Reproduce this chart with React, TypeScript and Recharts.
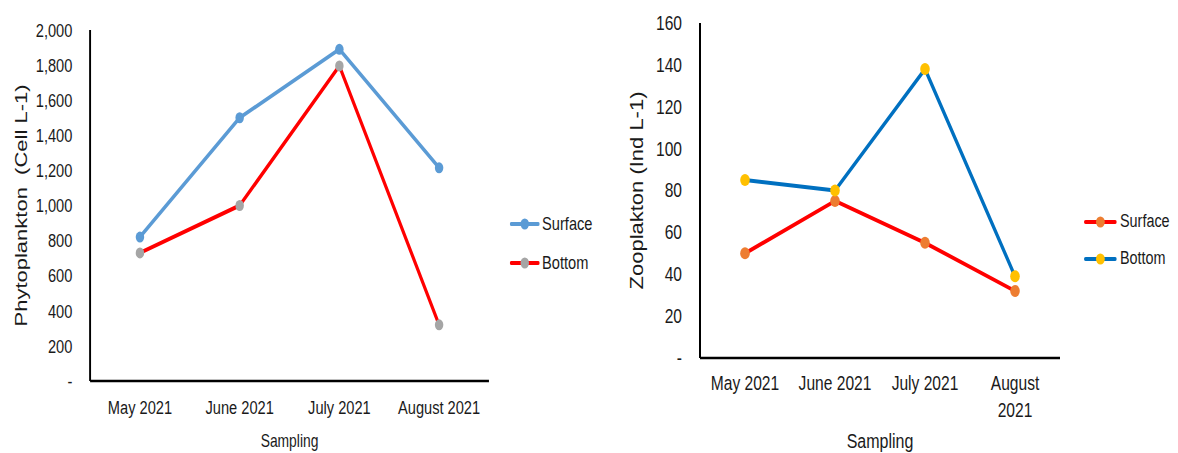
import React from "react";
import { LineChart, Line, XAxis, YAxis, Legend, Label } from "recharts";

const months = ["May 2021", "June 2021", "July 2021", "August 2021"];
// right chart wraps the last month onto two lines
const zooMonthLines = [["May 2021"], ["June 2021"], ["July 2021"], ["August", "2021"]];
const seriesNames = ["Surface", "Bottom"];

// phytoplankton (Cell L-1)
const phytoSurface = [820, 1500, 1890, 1215];
const phytoBottom = [730, 1000, 1795, 320];
const phytoTicks = [0, 200, 400, 600, 800, 1000, 1200, 1400, 1600, 1800, 2000];

// zooplankton (Ind L-1)
const zooSurface = [50, 75, 55, 32];
const zooBottom = [85, 80, 138, 39];
const zooTicks = [0, 20, 40, 60, 80, 100, 120, 140, 160];

const phytoData = months.map((m, i) => ({ month: m, surface: phytoSurface[i], bottom: phytoBottom[i] }));
const zooData = months.map((m, i) => ({ month: m, surface: zooSurface[i], bottom: zooBottom[i] }));

const FONT = '"Liberation Sans", Arial, sans-serif';
const INK = "#1a1a1a";

// the source picture is squeezed horizontally, so each chart is drawn wider and scaled down
const LEFT_K = 0.77;
const RIGHT_K = 0.8;

const dash = (v: number) => (v === 0 ? "-" : v.toLocaleString("en-US"));

type LegendItem = { name: string; line: string; dot: string };

function LegendBox({ items, lineW, gap, rowH, fontSize }: { items: LegendItem[]; lineW: number; gap: number; rowH: number; fontSize: number }) {
  return (
    <div style={{ fontFamily: FONT, fontSize, color: INK }}>
      {items.map((it) => (
        <div key={it.name} style={{ display: "flex", alignItems: "center", height: rowH }}>
          <svg width={lineW} height={14} style={{ marginRight: gap, display: "block" }}>
            <line x1={2} y1={7} x2={lineW - 2} y2={7} stroke={it.line} strokeWidth={4} strokeLinecap="round" />
            <circle cx={lineW / 2} cy={7} r={5.5} fill={it.dot} />
          </svg>
          <span>{it.name}</span>
        </div>
      ))}
    </div>
  );
}

function WrapTick(props: any) {
  const { x, y, index } = props;
  const lines = zooMonthLines[index] || [props.payload.value];
  return (
    <text x={x} y={y} textAnchor="middle" fill={INK} style={{ fontSize: 19.5, fontFamily: FONT }}>
      {lines.map((t, i) => (
        <tspan key={i} x={x} dy={i === 0 ? "0.71em" : 27}>
          {t}
        </tspan>
      ))}
    </text>
  );
}

function PhytoChart() {
  const items: LegendItem[] = [
    { name: seriesNames[0], line: "#5B9BD5", dot: "#5B9BD5" },
    { name: seriesNames[1], line: "#FF0000", dot: "#A5A5A5" },
  ];
  return (
    <LineChart width={779} height={453} data={phytoData} margin={{ top: 30, right: 144, bottom: 0, left: 0 }}>
      <XAxis dataKey="month" scale="band" height={72} axisLine={{ stroke: "#000", strokeWidth: 2.5 }} tickLine={false} tickSize={0} tickMargin={20} tick={{ fill: INK, fontSize: 19, fontFamily: FONT }}>
        <Label value="Sampling" position="insideBottom" offset={6} style={{ fontSize: 18, fontFamily: FONT, fill: INK }} />
      </XAxis>
      <YAxis domain={[0, 2000]} ticks={phytoTicks} width={117} axisLine={{ stroke: "#000", strokeWidth: 2.5 }} tickLine={false} tickSize={0} tickMargin={23} tickFormatter={dash} tick={{ fill: INK, fontSize: 19, fontFamily: FONT }}>
        <Label value={"Phytoplankton\u00A0 (Cell L-1)"} angle={-90} position="insideLeft" offset={27} style={{ textAnchor: "middle", fontSize: 22, fontFamily: FONT, fill: INK }} />
      </YAxis>
      <Legend layout="horizontal" verticalAlign="middle" align="center" wrapperStyle={{ left: 662, top: 204, right: "auto", bottom: "auto", width: 150 }} content={() => <LegendBox items={items} lineW={39} gap={3} rowH={39} fontSize={19} />} />
      <Line dataKey="surface" name={seriesNames[0]} stroke="#5B9BD5" strokeWidth={4} strokeLinejoin="round" dot={{ r: 5.5, fill: "#5B9BD5", stroke: "#5B9BD5", strokeWidth: 0 }} activeDot={false} isAnimationActive={false} />
      <Line dataKey="bottom" name={seriesNames[1]} stroke="#FF0000" strokeWidth={4} strokeLinejoin="round" dot={{ r: 5.5, fill: "#A5A5A5", stroke: "#A5A5A5", strokeWidth: 0 }} activeDot={false} isAnimationActive={false} />
    </LineChart>
  );
}

function ZooChart() {
  const items: LegendItem[] = [
    { name: seriesNames[0], line: "#FF0000", dot: "#ED7D31" },
    { name: seriesNames[1], line: "#0070C0", dot: "#FFC000" },
  ];
  return (
    <LineChart width={722} height={453} data={zooData} margin={{ top: 23, right: 147, bottom: 0, left: 0 }}>
      <XAxis dataKey="month" scale="band" height={95} axisLine={{ stroke: "#000", strokeWidth: 2.5 }} tickLine={false} tickSize={0} tickMargin={18} tick={<WrapTick />}>
        <Label value="Sampling" position="insideBottom" offset={5} style={{ fontSize: 20, fontFamily: FONT, fill: INK }} />
      </XAxis>
      <YAxis domain={[0, 160]} ticks={zooTicks} width={125} axisLine={{ stroke: "#000", strokeWidth: 2.5 }} tickLine={false} tickSize={0} tickMargin={22.5} tickFormatter={dash} tick={{ fill: INK, fontSize: 19.5, fontFamily: FONT }}>
        <Label value="Zooplakton (Ind L-1)" angle={-90} position="insideLeft" offset={46} style={{ textAnchor: "middle", fontSize: 22, fontFamily: FONT, fill: INK }} />
      </YAxis>
      <Legend layout="horizontal" verticalAlign="middle" align="center" wrapperStyle={{ left: 605, top: 203, right: "auto", bottom: "auto", width: 130 }} content={() => <LegendBox items={items} lineW={41} gap={4} rowH={37} fontSize={18} />} />
      <Line dataKey="surface" name={seriesNames[0]} stroke="#FF0000" strokeWidth={4} strokeLinejoin="round" dot={{ r: 6, fill: "#ED7D31", stroke: "#ED7D31", strokeWidth: 0 }} activeDot={false} isAnimationActive={false} />
      <Line dataKey="bottom" name={seriesNames[1]} stroke="#0070C0" strokeWidth={4} strokeLinejoin="round" dot={{ r: 6, fill: "#FFC000", stroke: "#FFC000", strokeWidth: 0 }} activeDot={false} isAnimationActive={false} />
    </LineChart>
  );
}

export default function App() {
  return (
    <div style={{ position: "absolute", left: 0, top: 0, width: 1178, height: 453, background: "#fff", overflow: "hidden" }}>
      <div style={{ position: "absolute", left: 0, top: 0, transform: `scaleX(${LEFT_K})`, transformOrigin: "0 0" }}>
        <PhytoChart />
      </div>
      <div style={{ position: "absolute", left: 600, top: 0, transform: `scaleX(${RIGHT_K})`, transformOrigin: "0 0" }}>
        <ZooChart />
      </div>
    </div>
  );
}
